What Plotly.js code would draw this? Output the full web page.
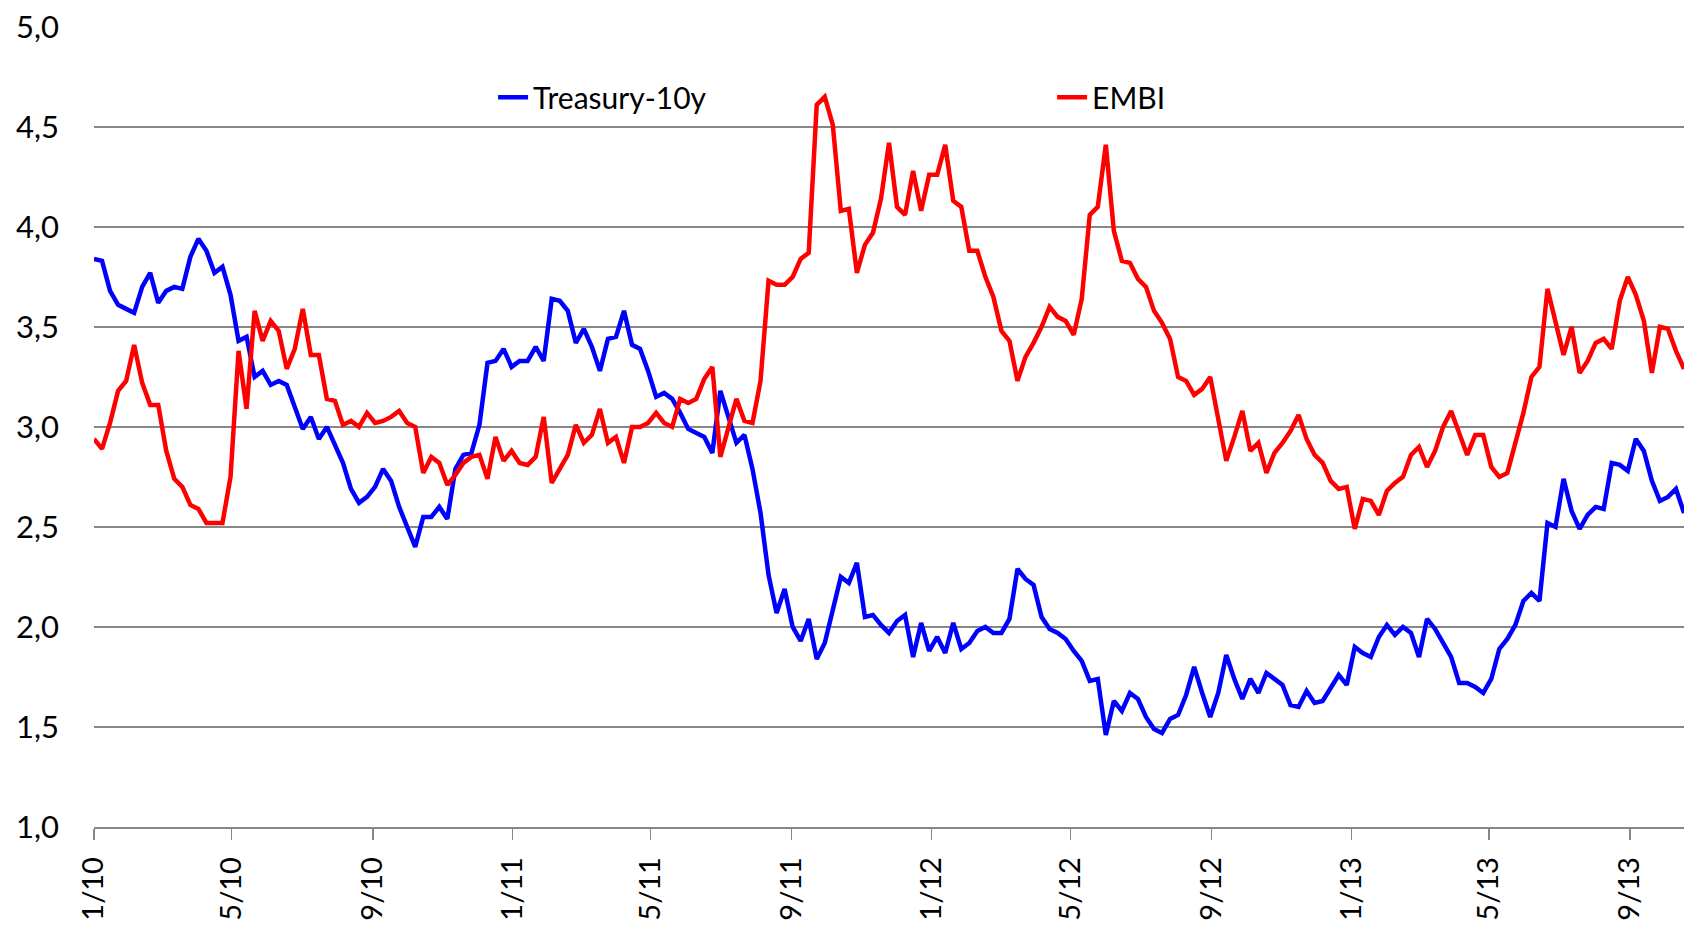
<!DOCTYPE html>
<html>
<head>
<meta charset="utf-8">
<script src="https://cdn.plot.ly/plotly-3.0.1.min.js"></script>
<style>
  html, body { margin: 0; padding: 0; background: #ffffff; }
  #chart { width: 1684px; height: 925px; }
</style>
</head>
<body>
<div id="chart"></div>
<script>
// Weekly observations starting on this date (one point every 7 days)
const startDate = '2010-01-01';

const treasury10y = [
  3.84, 3.83, 3.68, 3.61, 3.59, 3.57, 3.70, 3.77, 3.62, 3.68,
  3.70, 3.69, 3.85, 3.94, 3.88, 3.77, 3.80, 3.66, 3.43, 3.45,
  3.25, 3.28, 3.21, 3.23, 3.21, 3.10, 2.99, 3.05, 2.94, 3.00,
  2.91, 2.82, 2.69, 2.62, 2.65, 2.70, 2.79, 2.73, 2.60, 2.50,
  2.40, 2.55, 2.55, 2.60, 2.54, 2.79, 2.86, 2.87, 3.01, 3.32,
  3.33, 3.39, 3.30, 3.33, 3.33, 3.40, 3.33, 3.64, 3.63, 3.58,
  3.42, 3.49, 3.40, 3.28, 3.44, 3.45, 3.58, 3.41, 3.39, 3.28,
  3.15, 3.17, 3.14, 3.07, 2.99, 2.97, 2.95, 2.87, 3.18, 3.05,
  2.92, 2.96, 2.79, 2.57, 2.26, 2.07, 2.19, 2.00, 1.93, 2.04,
  1.84, 1.92, 2.08, 2.25, 2.22, 2.32, 2.05, 2.06, 2.01, 1.97,
  2.03, 2.06, 1.85, 2.02, 1.88, 1.95, 1.87, 2.02, 1.89, 1.92,
  1.98, 2.00, 1.97, 1.97, 2.04, 2.29, 2.24, 2.21, 2.05, 1.99,
  1.97, 1.94, 1.88, 1.83, 1.73, 1.74, 1.46, 1.63, 1.58, 1.67,
  1.64, 1.55, 1.49, 1.47, 1.54, 1.56, 1.66, 1.80, 1.67, 1.55,
  1.67, 1.86, 1.74, 1.64, 1.74, 1.67, 1.77, 1.74, 1.71, 1.61,
  1.60, 1.68, 1.62, 1.63, 1.70, 1.76, 1.71, 1.90, 1.87, 1.85,
  1.95, 2.01, 1.96, 2.00, 1.97, 1.85, 2.04, 1.99, 1.92, 1.85,
  1.72, 1.72, 1.70, 1.67, 1.74, 1.89, 1.94, 2.01, 2.13, 2.17,
  2.13, 2.52, 2.50, 2.74, 2.58, 2.49, 2.56, 2.60, 2.59, 2.82,
  2.81, 2.78, 2.94, 2.88, 2.73, 2.63, 2.65, 2.69, 2.57
];

const embi = [
  2.94, 2.89, 3.02, 3.18, 3.23, 3.41, 3.22, 3.11, 3.11, 2.88,
  2.74, 2.70, 2.61, 2.59, 2.52, 2.52, 2.52, 2.75, 3.38, 3.09,
  3.58, 3.43, 3.53, 3.48, 3.29, 3.39, 3.59, 3.36, 3.36, 3.14,
  3.13, 3.01, 3.03, 3.00, 3.07, 3.02, 3.03, 3.05, 3.08, 3.02,
  3.00, 2.77, 2.85, 2.82, 2.71, 2.76, 2.82, 2.85, 2.86, 2.74,
  2.95, 2.83, 2.88, 2.82, 2.81, 2.85, 3.05, 2.72, 2.79, 2.86,
  3.01, 2.92, 2.96, 3.09, 2.92, 2.95, 2.82, 3.00, 3.00, 3.02,
  3.07, 3.02, 3.00, 3.14, 3.12, 3.14, 3.24, 3.30, 2.85, 3.00,
  3.14, 3.03, 3.02, 3.23, 3.73, 3.71, 3.71, 3.75, 3.84, 3.87,
  4.61, 4.65, 4.51, 4.08, 4.09, 3.77, 3.91, 3.97, 4.14, 4.42,
  4.10, 4.06, 4.28, 4.08, 4.26, 4.26, 4.41, 4.13, 4.10, 3.88,
  3.88, 3.75, 3.65, 3.48, 3.43, 3.23, 3.35, 3.42, 3.50, 3.60,
  3.55, 3.53, 3.46, 3.64, 4.06, 4.10, 4.41, 3.98, 3.83, 3.82,
  3.74, 3.70, 3.58, 3.52, 3.44, 3.25, 3.23, 3.16, 3.19, 3.25,
  3.04, 2.83, 2.95, 3.08, 2.88, 2.92, 2.77, 2.87, 2.92, 2.98,
  3.06, 2.94, 2.86, 2.82, 2.73, 2.69, 2.70, 2.49, 2.64, 2.63,
  2.56, 2.68, 2.72, 2.75, 2.86, 2.90, 2.80, 2.88, 3.00, 3.08,
  2.97, 2.86, 2.96, 2.96, 2.80, 2.75, 2.77, 2.92, 3.07, 3.25,
  3.30, 3.69, 3.53, 3.36, 3.50, 3.27, 3.33, 3.42, 3.44, 3.39,
  3.63, 3.75, 3.66, 3.53, 3.27, 3.50, 3.49, 3.38, 3.29
];

const tickDates = [
  '2010-01-01', '2010-05-01', '2010-09-01',
  '2011-01-01', '2011-05-01', '2011-09-01',
  '2012-01-01', '2012-05-01', '2012-09-01',
  '2013-01-01', '2013-05-01', '2013-09-01'
];
const tickLabels = ['1/10', '5/10', '9/10', '1/11', '5/11', '9/11',
                    '1/12', '5/12', '9/12', '1/13', '5/13', '9/13'];

const xRange = ['2010-01-01', '2013-10-18'];
const yTicks = [1.0, 1.5, 2.0, 2.5, 3.0, 3.5, 4.0, 4.5, 5.0];

// weekly dates (categories of the x axis)
function weeklyDates(start, n) {
  const out = [];
  const d0 = new Date(start + 'T00:00:00Z');
  for (let i = 0; i < n; i++) {
    const d = new Date(d0.getTime() + i * 7 * 86400000);
    out.push(d.toISOString().slice(0, 10));
  }
  return out;
}
const dates = weeklyDates(startDate, treasury10y.length);

const FONT = 'Lato, "Open Sans", "Noto Sans", sans-serif';
const GRID = '#878787';

const traces = [
  {
    x: dates, y: treasury10y, type: 'scatter', mode: 'lines',
    name: 'Treasury-10y',
    line: { color: '#0000FF', width: 4.5 }
  },
  {
    x: dates, y: embi, type: 'scatter', mode: 'lines',
    name: 'EMBI',
    line: { color: '#FF0000', width: 4.5 }
  }
];

const layout = {
  width: 1684, height: 925,
  margin: { l: 94, r: 0, t: 26, b: 98, pad: 0 },
  paper_bgcolor: '#ffffff', plot_bgcolor: '#ffffff',
  separators: ',.',
  font: { family: FONT, size: 31, color: '#000000' },
  showlegend: true,
  legend: {
    orientation: 'h',
    x: 0.251, xanchor: 'left',
    y: 0.911, yanchor: 'middle',
    font: { family: FONT, size: 30, color: '#000000' },
    entrywidth: 514,
    bgcolor: 'rgba(0,0,0,0)',
    borderwidth: 0
  },
  xaxis: {
    type: 'date',
    range: xRange,
    tickmode: 'array',
    tickvals: tickDates,
    ticktext: tickLabels,
    tickangle: -90,
    ticks: 'outside', ticklen: 11, tickwidth: 1.5, tickcolor: GRID,
    ticklabelstandoff: 6,
    showgrid: false,
    showline: true, linecolor: GRID, linewidth: 1.5,
    zeroline: false,
    tickfont: { family: FONT, size: 29, color: '#000000' }
  },
  yaxis: {
    range: [1, 5.004],
    tickmode: 'array',
    tickvals: yTicks,
    tickformat: '.1f',
    ticks: '',
    ticklabelstandoff: 34,
    showgrid: true, gridcolor: GRID, gridwidth: 1.5,
    showline: false,
    zeroline: false,
    tickfont: { family: FONT, size: 31, color: '#000000' }
  }
};

Plotly.newPlot('chart', traces, layout, { staticPlot: true, displayModeBar: false });
</script>
</body>
</html>
